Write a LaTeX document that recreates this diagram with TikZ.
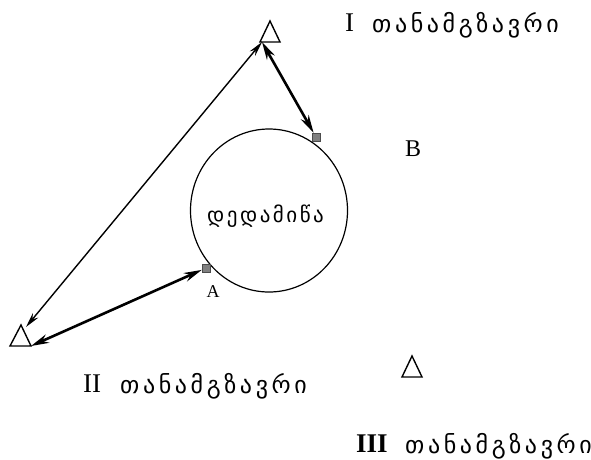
\documentclass[tikz,border=0pt]{standalone}
\usepackage{fontspec}
\setmainfont{Liberation Serif}
\newfontfamily\geo[LetterSpace=15]{DejaVu Sans}
\newfontfamily\geoe[LetterSpace=12]{DejaVu Sans}
\usetikzlibrary{arrows.meta}
\begin{document}
\begin{tikzpicture}[x=1pt,y=-1pt,
  sat/.style={draw,line width=1.4pt,fill=white,line join=miter},
  pt/.style={draw=black!70,fill=black!50,minimum size=8pt,inner sep=0pt},
  thk/.style={line width=2.6pt,{Stealth[length=18pt,width=9pt]}-{Stealth[length=18pt,width=9pt]}},
  thn/.style={line width=1.4pt,{Stealth[length=15pt,width=7pt]}-{Stealth[length=15pt,width=7pt]}},
  lab/.style={font=\fontsize{24}{26}\selectfont\geo,anchor=west,inner sep=0pt},
  rom/.style={font=\fontsize{27}{29}\selectfont,anchor=west,inner sep=0pt}]
\useasboundingbox (0,0) rectangle (591,459);
% earth
\draw[line width=1.2pt] (269,210.5) ellipse [x radius=78.5, y radius=81.5];
\node[font=\fontsize{21}{23}\selectfont\geoe,anchor=west,inner sep=0pt] (el) at (207,216) {დედამიწა};
% satellites
\coordinate (s1a) at (270,21); \coordinate (s1l) at (260,42); \coordinate (s1r) at (280,42);
\coordinate (s2a) at (21,325); \coordinate (s2l) at (10,346); \coordinate (s2r) at (31,346);
\coordinate (s3a) at (412,356); \coordinate (s3l) at (402,377); \coordinate (s3r) at (422,377);
\draw[sat] (s1a) -- (s1l) -- (s1r) -- cycle;
\draw[sat] (s2a) -- (s2l) -- (s2r) -- cycle;
\draw[sat] (s3a) -- (s3l) -- (s3r) -- cycle;
\coordinate (s1c) at (262,42);
\coordinate (s2e) at (26,327);
% points
\node[pt] (B) at (316,137) {};
\node[pt] (A) at (206,268) {};
\node[font=\fontsize{18}{20}\selectfont,inner sep=0pt] (Al) at (213,292) {A};
\node[font=\fontsize{24}{26}\selectfont,inner sep=0pt] (Bl) at (413,149) {B};
% labels
\node[rom] (r1) at (345,23) {I};
\node[lab] (t1) at (372,25) {თანამგზავრი};
\node[rom] (r2) at (83,384) {II};
\node[lab] (t2) at (120,386) {თანამგზავრი};
\node[rom,font=\fontsize{27}{29}\selectfont\bfseries] (r3) at (356,444) {III};
\node[lab] (t3) at (405,446) {თანამგზავრი};
% connectors
\draw[thk] (s1c) -- (B);
\draw[thn] (s1c) -- (s2e);
\draw[thk] (s2r) -- (A);
\end{tikzpicture}
\end{document}
